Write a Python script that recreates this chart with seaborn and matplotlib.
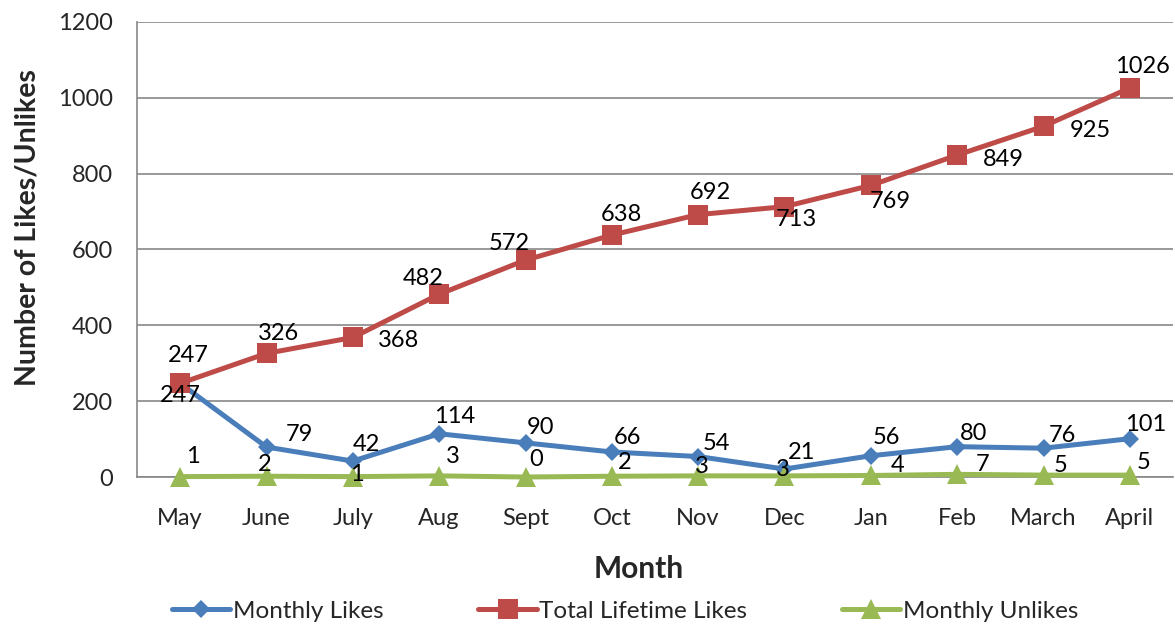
import matplotlib
matplotlib.use("Agg")
import matplotlib.pyplot as plt
import seaborn as sns
import pandas as pd
import numpy as np
from matplotlib.ticker import FixedLocator, NullFormatter
from matplotlib.lines import Line2D

months = ["May", "June", "July", "Aug", "Sept", "Oct", "Nov", "Dec", "Jan", "Feb", "March", "April"]
monthly_likes = [247, 79, 42, 114, 90, 66, 54, 21, 56, 80, 76, 101]
total_lifetime_likes = [247, 326, 368, 482, 572, 638, 692, 713, 769, 849, 925, 1026]
monthly_unlikes = [1, 2, 1, 3, 0, 2, 3, 3, 4, 7, 5, 5]
series_names = ["Monthly Likes", "Total Lifetime Likes", "Monthly Unlikes"]
y_ticks = [0, 200, 400, 600, 800, 1000, 1200]

# data-label offsets (pixels, y up) relative to each point
off_likes = [(0, -10), (33, 15), (14, 19), (15, 19), (15, 17), (16, 16), (18, 15), (17, 19), (16, 20), (16, 15), (19, 15), (16, 16)]
off_total = [(8, 30), (12, 22), (46, -1), (-16, 18), (-16, 19), (10, 23), (12, 24), (12, -11), (19, -14), (46, -2), (47, -2), (13, 23)]
off_unl = [(13, 22), (-2, 14), (4, 4), (14, 21), (11, 19), (13, 16), (4, 11), (-2, 8), (27, 12), (25, 12), (17, 12), (14, 15)]

sns.set_theme(style="white")
plt.rcParams["font.family"] = ["Lato", "DejaVu Sans"]

colors = {"Monthly Likes": "#4A7EBB", "Total Lifetime Likes": "#BE4B48", "Monthly Unlikes": "#98B954"}
markers = {"Monthly Likes": "D", "Total Lifetime Likes": "s", "Monthly Unlikes": "^"}
msizes = {"D": 9.5, "s": 14, "^": 15}
LW = 3.6

df = pd.DataFrame({
    "idx": list(range(len(months))) * 3,
    "value": monthly_likes + total_lifetime_likes + monthly_unlikes,
    "series": [series_names[0]] * 12 + [series_names[1]] * 12 + [series_names[2]] * 12,
})

fig = plt.figure(figsize=(11.75, 6.28), dpi=100)
ax = fig.add_axes([137 / 1175, 1 - 477 / 628, 1036 / 1175, (477 - 22) / 628])

sns.lineplot(data=df, x="idx", y="value", hue="series", style="series",
             palette=colors, markers=markers, dashes=False, linewidth=LW,
             markersize=10, markeredgewidth=0, ax=ax, legend=False, zorder=3,
             clip_on=False)
for line in ax.get_lines():
    m = line.get_marker()
    if m in msizes:
        line.set_markersize(msizes[m])

ax.set_xlim(-0.5, 11.5)
ax.set_ylim(0, 1200)
ax.set_yticks(y_ticks)
ax.set_yticklabels([str(t) for t in y_ticks], fontsize=17)
ax.set_xticks(range(len(months)))
ax.set_xticklabels(months, fontsize=17)
ax.xaxis.set_minor_locator(FixedLocator(np.arange(-0.5, 12, 1)))
ax.xaxis.set_minor_formatter(NullFormatter())
ax.tick_params(axis="x", which="major", length=0, pad=22)
ax.tick_params(axis="x", which="minor", length=5, width=1.2, color="#878787", direction="out")
ax.tick_params(axis="y", which="major", length=6.5, width=1.2, color="#878787", direction="out", pad=11)
ax.grid(axis="y", color="#878787", linewidth=1.2)
ax.grid(axis="x", visible=False)
for s in ["top", "right"]:
    ax.spines[s].set_visible(False)
for s in ["left", "bottom"]:
    ax.spines[s].set_color("#878787")
    ax.spines[s].set_linewidth(1.2)
ax.set_axisbelow(True)

ax.set_xlabel("Month", fontsize=21.5, fontweight="bold")
ax.set_ylabel("Number of Likes/Unlikes", fontsize=20.5, fontweight="bold")
ax.xaxis.set_label_coords((639 - 137) / 1036, (477 - 569) / 455)
ax.xaxis.label.set_va("center")
ax.yaxis.set_label_coords((28 - 137) / 1036, (477 - 228) / 455)
ax.yaxis.label.set_va("center")

for vals, offs in [(monthly_likes, off_likes), (total_lifetime_likes, off_total), (monthly_unlikes, off_unl)]:
    for i, (v, o) in enumerate(zip(vals, offs)):
        ax.annotate(str(v), (i, v), xytext=(o[0], o[1] - 2), textcoords="offset pixels",
                    ha="center", va="center", fontsize=17, color="black",
                    zorder=5, annotation_clip=False)

handles = [Line2D([0], [0], color=colors[n], marker=markers[n], linewidth=LW,
                  markersize=msizes[markers[n]], markeredgewidth=0)
           for n in series_names]
fig.legend(handles, series_names, loc="center", bbox_to_anchor=(0.532, 1 - 611 / 628),
           ncol=3, frameon=False, fontsize=17.5, handlelength=2.4, columnspacing=3.9,
           handletextpad=0.1)

fig.savefig("out.png", dpi=100)
